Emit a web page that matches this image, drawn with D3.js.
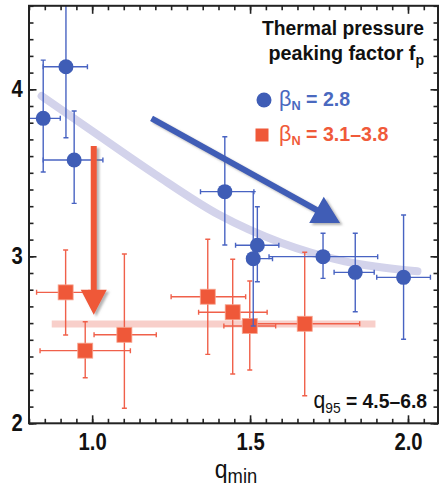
<!DOCTYPE html>
<html>
<head>
<meta charset="utf-8">
<script src="https://cdn.jsdelivr.net/npm/d3@7"></script>
<style>
body { margin: 0; background: #fff; }
svg { display: block; font-family: 'Liberation Sans', Arial, sans-serif; }
</style>
</head>
<body>
<svg id="chart" width="440" height="488"></svg>
<script>
// beta_N = 2.8 (blue circles)
const blueQmin = [0.845, 0.917, 0.943, 1.420, 1.523, 1.510, 1.731, 1.833, 1.986];
const blueFp   = [3.826, 4.135, 3.577, 3.387, 3.066, 2.986, 2.998, 2.904, 2.874];
const blueQlo  = [0.790, 0.845, 0.845, 1.343, 1.454, 1.490, 1.560, 1.766, 1.901];
const blueQhi  = [0.899, 0.985, 1.034, 1.512, 1.591, 1.571, 1.904, 1.893, 2.071];
const blueFlo  = [3.505, 3.710, 3.317, 3.068, 2.848, 2.583, 2.868, 2.668, 2.503];
const blueFhi  = [4.175, 4.600, 3.870, 3.716, 3.297, 3.387, 3.138, 3.138, 3.247];

// beta_N = 3.1-3.8 (red squares)
const redQmin = [0.916, 0.978, 1.102, 1.366, 1.445, 1.499, 1.673];
const redFp   = [2.784, 2.435, 2.530, 2.758, 2.665, 2.583, 2.596];
const redQlo  = [0.824, 0.835, 1.006, 1.250, 1.337, 1.417, 1.500];
const redQhi  = [0.990, 1.121, 1.203, 1.486, 1.554, 1.581, 1.847];
const redFlo  = [2.529, 2.273, 2.090, 2.413, 2.295, 2.319, 2.165];
const redFhi  = [3.038, 2.608, 3.014, 3.102, 2.982, 2.852, 3.024];

// trend bands
const blueTrendQ = [0.84, 1.0, 1.2, 1.4, 1.6, 1.8, 2.03];
const blueTrendF = [3.96, 3.75, 3.49, 3.25, 3.08, 2.97, 2.91];
const redTrendQ = [0.872, 1.897];
const redTrendF = [2.594, 2.594];

// tick labels
const xMajor = [1.0, 1.5, 2.0];
const yMajor = [2, 3, 4];

const BLUE = '#3f5db6';
const RED = '#ef5839';

const svg = d3.select('#chart');
const x = d3.scaleLinear().domain([0.8, 2.095]).range([29, 438]);
const y = d3.scaleLinear().domain([2, 4.5]).range([423.3, 5.8]);

const defs = svg.append('defs');
defs.append('clipPath').attr('id', 'plot')
    .append('rect').attr('x', 29).attr('y', 5.8).attr('width', 409).attr('height', 417.5);
defs.append('filter').attr('id', 'shadow')
    .attr('x', -0.2).attr('y', -0.2).attr('width', 1.5).attr('height', 1.5)
    .append('feDropShadow')
    .attr('dx', 2.5).attr('dy', 2).attr('stdDeviation', 1.3)
    .attr('flood-color', '#777').attr('flood-opacity', 0.55);

const plot = svg.append('g').attr('clip-path', 'url(#plot)');

// trend bands
const line = d3.line().x(d => x(d[0])).y(d => y(d[1])).curve(d3.curveMonotoneX);
plot.append('path')
    .datum(blueTrendQ.map((q, i) => [q, blueTrendF[i]]))
    .attr('d', line)
    .attr('fill', 'none').attr('stroke', '#d3d3eb').attr('stroke-width', 8)
    .attr('stroke-linecap', 'round');
plot.append('path')
    .datum(redTrendQ.map((q, i) => [q, redTrendF[i]]))
    .attr('d', line)
    .attr('fill', 'none').attr('stroke', '#f8cfca').attr('stroke-width', 7);

function errorBars(g, q, f, qlo, qhi, flo, fhi, color) {
    const cap = 2.5;
    q.forEach((d, i) => {
        const cx = x(d), cy = y(f[i]);
        const e = g.append('g').attr('stroke', color).attr('stroke-width', 1.4);
        e.append('line').attr('x1', x(qlo[i])).attr('x2', x(qhi[i])).attr('y1', cy).attr('y2', cy);
        e.append('line').attr('x1', cx).attr('x2', cx).attr('y1', y(flo[i])).attr('y2', y(fhi[i]));
        [qlo[i], qhi[i]].forEach(v => e.append('line')
            .attr('x1', x(v)).attr('x2', x(v)).attr('y1', cy - cap).attr('y2', cy + cap));
        [flo[i], fhi[i]].forEach(v => e.append('line')
            .attr('x1', cx - cap).attr('x2', cx + cap).attr('y1', y(v)).attr('y2', y(v)));
    });
}

// red first, blue drawn over it
errorBars(plot, redQmin, redFp, redQlo, redQhi, redFlo, redFhi, '#f0604a');
plot.selectAll('rect.red')
    .data(redQmin)
    .enter().append('rect')
    .attr('class', 'red')
    .attr('x', d => x(d) - 7.5)
    .attr('y', (d, i) => y(redFp[i]) - 7.5)
    .attr('width', 15).attr('height', 15)
    .attr('fill', RED).attr('stroke', '#f7a48f').attr('stroke-width', 0.8);

errorBars(plot, blueQmin, blueFp, blueQlo, blueQhi, blueFlo, blueFhi, '#4863c2');
plot.selectAll('circle.blue')
    .data(blueQmin)
    .enter().append('circle')
    .attr('class', 'blue')
    .attr('cx', d => x(d))
    .attr('cy', (d, i) => y(blueFp[i]))
    .attr('r', 7.5)
    .attr('fill', BLUE);

// arrows
function arrow(q1, f1, q2, f2, w, headW, headL, color) {
    const x1 = x(q1), y1 = y(f1), x2 = x(q2), y2 = y(f2);
    const len = Math.hypot(x2 - x1, y2 - y1);
    const ux = (x2 - x1) / len, uy = (y2 - y1) / len;
    const px = -uy, py = ux;
    const bx = x2 - ux * headL, by = y2 - uy * headL;
    const pts = [
        [x1 + px * w / 2, y1 + py * w / 2],
        [bx + px * w / 2, by + py * w / 2],
        [bx + px * headW / 2, by + py * headW / 2],
        [x2, y2],
        [bx - px * headW / 2, by - py * headW / 2],
        [bx - px * w / 2, by - py * w / 2],
        [x1 - px * w / 2, y1 - py * w / 2]
    ];
    svg.append('polygon')
        .attr('points', pts.map(p => p.join(',')).join(' '))
        .attr('fill', color)
        .attr('filter', 'url(#shadow)');
}
arrow(1.005, 3.66, 1.005, 2.65, 6, 26, 25, RED);
arrow(1.188, 3.826, 1.785, 3.2, 6, 30, 27, BLUE);

// axes: frame + inward ticks on all four sides
const minorX = d3.range(16, 42).map(i => i * 0.05);
const minorY = d3.range(20, 46).map(i => i / 10);

function styleAxis(g) {
    g.select('.domain').remove();
    g.selectAll('.tick line').attr('stroke', '#222').attr('stroke-width', 1.6);
    g.selectAll('.tick text')
        .attr('fill', '#111').attr('font-size', 23).attr('font-weight', 'bold')
        .attr('font-family', "'Liberation Sans', Arial, sans-serif")
        .attr('transform', 'scale(0.88,1)');
}

svg.append('g').attr('transform', 'translate(0,423.3)')
    .call(d3.axisBottom(x).tickValues(minorX).tickSize(-4.5).tickFormat(''))
    .call(styleAxis);
svg.append('g').attr('transform', 'translate(0,423.3)')
    .call(d3.axisBottom(x).tickValues(xMajor).tickSize(-8).tickPadding(10).tickFormat(d3.format('.1f')))
    .call(styleAxis);
svg.append('g').attr('transform', 'translate(0,5.8)')
    .call(d3.axisTop(x).tickValues(minorX).tickSize(-4.5).tickFormat(''))
    .call(styleAxis);
svg.append('g').attr('transform', 'translate(0,5.8)')
    .call(d3.axisTop(x).tickValues(xMajor).tickSize(-8).tickFormat(''))
    .call(styleAxis);

svg.append('g').attr('transform', 'translate(29,0)')
    .call(d3.axisLeft(y).tickValues(minorY).tickSize(-4.5).tickFormat(''))
    .call(styleAxis);
svg.append('g').attr('transform', 'translate(29,0)')
    .call(d3.axisLeft(y).tickValues(yMajor).tickSize(-7.5).tickPadding(7).tickFormat(d3.format('d')))
    .call(styleAxis);
svg.append('g').attr('transform', 'translate(438,0)')
    .call(d3.axisRight(y).tickValues(minorY).tickSize(-4.5).tickFormat(''))
    .call(styleAxis);
svg.append('g').attr('transform', 'translate(438,0)')
    .call(d3.axisRight(y).tickValues(yMajor).tickSize(-7.5).tickFormat(''))
    .call(styleAxis);

svg.append('rect')
    .attr('x', 29).attr('y', 5.8).attr('width', 409).attr('height', 417.5)
    .attr('fill', 'none').attr('stroke', '#222').attr('stroke-width', 2);

// text placed in a horizontally squeezed group (condensed look)
function label(tx, ty, k, anchor) {
    return svg.append('g').attr('transform', `translate(${tx},${ty}) scale(${k},1)`)
        .append('text').attr('text-anchor', anchor).attr('fill', '#111');
}

// x title
const xt = label(236, 478, 0.92, 'middle');
xt.append('tspan').attr('font-size', 25).text('q');
xt.append('tspan').attr('font-size', 20).attr('dy', 5).text('min');

// legend header
label(424, 35, 0.92, 'end')
    .attr('font-size', 21).attr('font-weight', 'bold')
    .text('Thermal pressure');
const h2 = label(424, 60, 0.94, 'end')
    .attr('font-size', 21).attr('font-weight', 'bold');
h2.append('tspan').text('peaking factor f');
h2.append('tspan').attr('font-size', 15).attr('dy', 5).text('p');

// legend entries
function legendText(yb, text, color) {
    const t = label(279, yb, 0.98, 'start').attr('fill', color);
    t.append('tspan').attr('font-size', 22).text('β');
    t.append('tspan').attr('font-size', 13).attr('font-weight', 'bold').attr('dy', 4).text('N');
    t.append('tspan').attr('font-size', 20).attr('font-weight', 'bold').attr('dy', -4).text(' = ' + text);
}
svg.append('circle').attr('cx', 264).attr('cy', 100).attr('r', 7.5).attr('fill', BLUE);
legendText(106, '2.8', '#4a69bf');
svg.append('rect').attr('x', 255.5).attr('y', 128.5).attr('width', 13).attr('height', 13).attr('fill', RED);
legendText(141, '3.1–3.8', '#f05a3a');

// q95 note
const qn = label(427, 408, 0.92, 'end');
qn.append('tspan').attr('font-size', 23).text('q');
qn.append('tspan').attr('font-size', 15).attr('dy', 5).text('95');
qn.append('tspan').attr('font-size', 21).attr('font-weight', 'bold').attr('dy', -5).text(' = 4.5–6.8');
</script>
</body>
</html>
